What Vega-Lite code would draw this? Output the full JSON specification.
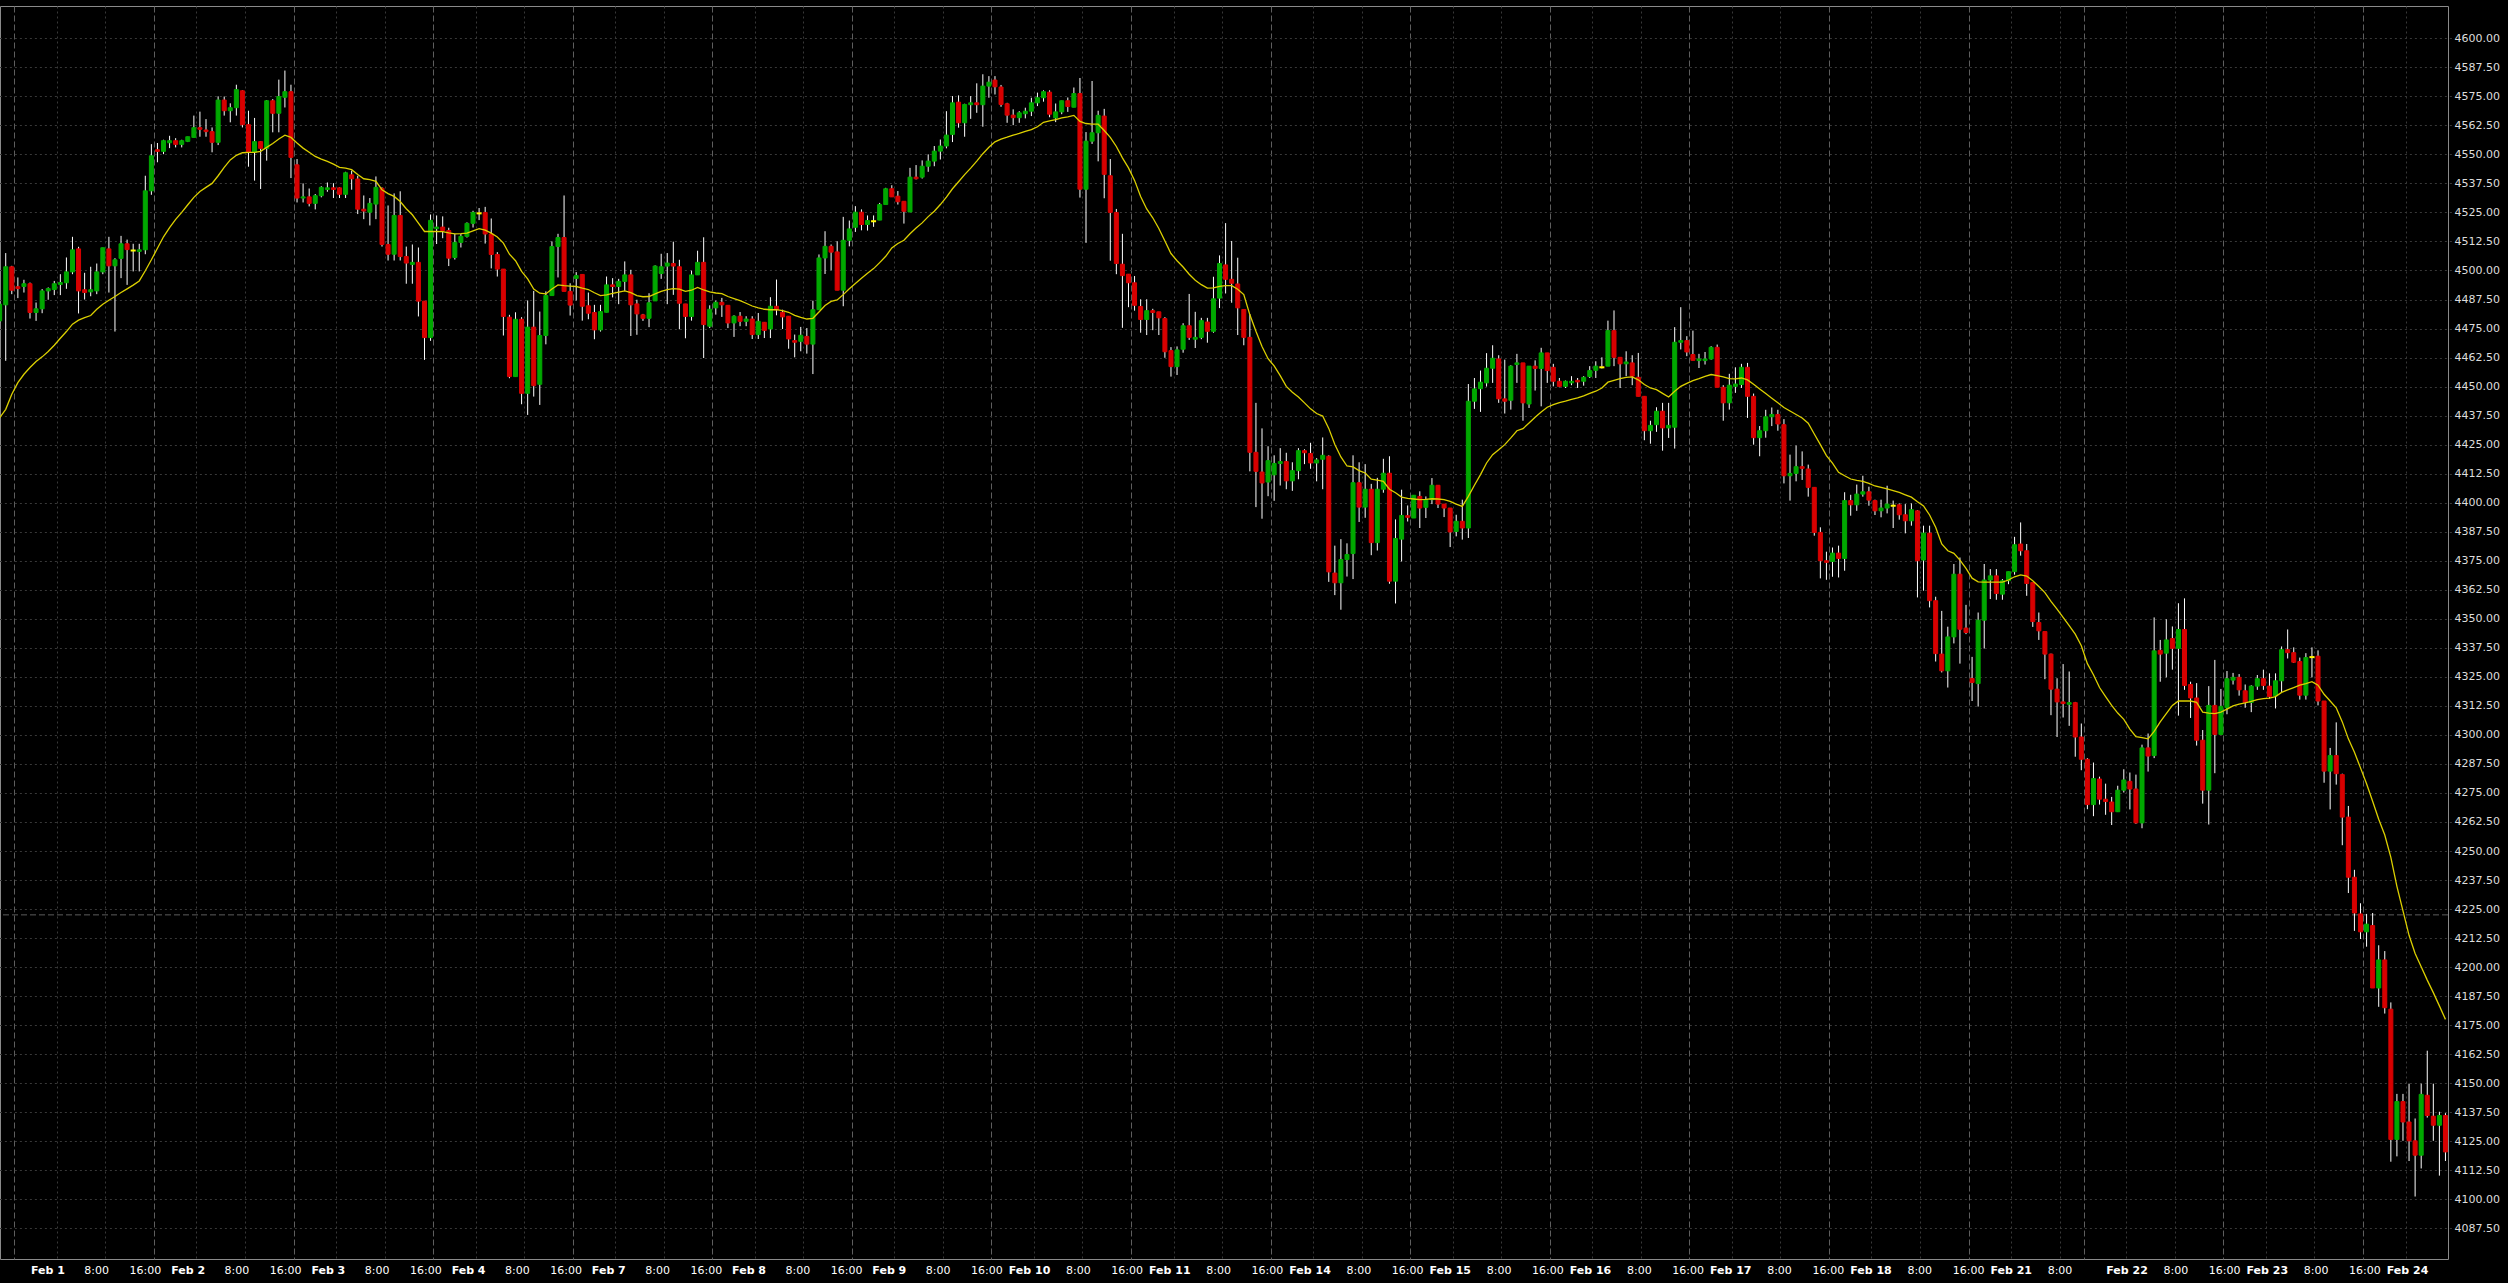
{
"$schema":"https://vega.github.io/schema/vega-lite/v6.json",
"width":2448,"height":1253,
"autosize":{"type":"none"},
"padding":{"left":0,"top":6,"right":60,"bottom":24},
"background":"#000000",
"config":{"view":{"stroke":"#8a8a8a","strokeWidth":1},"axis":{"labelOverlap":false},"axisY":{"labelOverlap":false,"tickCount":60},"axisX":{"labelOverlap":false}},
"datasets":{
"levels":[{"price":4222.5}],
"bars":[
{"t":"2022-01-31 13:00","o":4478.3,"h":4486.5,"l":4477.5,"c":4485.5,"ma":4436.6},
{"t":"2022-01-31 14:00","o":4485.2,"h":4507.5,"l":4461.1,"c":4501.6,"ma":4440.2},
{"t":"2022-01-31 15:00","o":4501.6,"h":4502.0,"l":4489.8,"c":4491.5,"ma":4446.7},
{"t":"2022-01-31 17:00","o":4493.0,"h":4497.0,"l":4488.1,"c":4492.2,"ma":4451.7},
{"t":"2022-01-31 18:00","o":4493.1,"h":4496.0,"l":4490.5,"c":4494.3,"ma":4455.3},
{"t":"2022-01-31 19:00","o":4494.3,"h":4494.8,"l":4479.3,"c":4481.9,"ma":4458.2},
{"t":"2022-01-31 20:00","o":4481.9,"h":4486.2,"l":4478.3,"c":4483.5,"ma":4460.8},
{"t":"2022-01-31 21:00","o":4483.5,"h":4492.0,"l":4481.6,"c":4491.2,"ma":4462.8},
{"t":"2022-01-31 22:00","o":4491.2,"h":4492.7,"l":4487.4,"c":4492.2,"ma":4465.1},
{"t":"2022-01-31 23:00","o":4491.8,"h":4495.5,"l":4489.4,"c":4494.3,"ma":4467.8},
{"t":"2022-02-01 00:00","o":4494.0,"h":4498.4,"l":4489.4,"c":4494.8,"ma":4470.8},
{"t":"2022-02-01 01:00","o":4494.7,"h":4505.6,"l":4492.1,"c":4499.4,"ma":4473.7},
{"t":"2022-02-01 02:00","o":4499.4,"h":4514.5,"l":4498.4,"c":4508.9,"ma":4476.9},
{"t":"2022-02-01 03:00","o":4509.3,"h":4510.2,"l":4481.5,"c":4491.2,"ma":4478.6},
{"t":"2022-02-01 04:00","o":4491.7,"h":4499.0,"l":4487.5,"c":4490.5,"ma":4479.7},
{"t":"2022-02-01 05:00","o":4490.8,"h":4501.6,"l":4488.9,"c":4491.7,"ma":4480.6},
{"t":"2022-02-01 06:00","o":4491.2,"h":4503.0,"l":4489.8,"c":4499.4,"ma":4483.3},
{"t":"2022-02-01 07:00","o":4499.4,"h":4509.8,"l":4498.4,"c":4509.8,"ma":4485.5},
{"t":"2022-02-01 08:00","o":4509.3,"h":4514.5,"l":4490.5,"c":4502.0,"ma":4487.2},
{"t":"2022-02-01 09:00","o":4502.0,"h":4505.3,"l":4473.7,"c":4504.6,"ma":4488.8},
{"t":"2022-02-01 10:00","o":4505.2,"h":4514.9,"l":4496.7,"c":4511.5,"ma":4490.5},
{"t":"2022-02-01 11:00","o":4511.5,"h":4513.3,"l":4493.8,"c":4509.0,"ma":4492.1},
{"t":"2022-02-01 12:00","o":4508.6,"h":4511.5,"l":4499.6,"c":4508.6,"ma":4493.7},
{"t":"2022-02-01 13:00","o":4508.2,"h":4511.5,"l":4499.6,"c":4508.9,"ma":4495.5},
{"t":"2022-02-01 14:00","o":4508.9,"h":4540.8,"l":4507.0,"c":4534.3,"ma":4499.9},
{"t":"2022-02-01 15:00","o":4534.3,"h":4554.4,"l":4532.6,"c":4549.4,"ma":4504.6},
{"t":"2022-02-01 17:00","o":4552.0,"h":4554.9,"l":4546.6,"c":4551.3,"ma":4509.6},
{"t":"2022-02-01 18:00","o":4551.3,"h":4556.3,"l":4550.1,"c":4555.9,"ma":4514.5},
{"t":"2022-02-01 19:00","o":4555.0,"h":4558.0,"l":4552.7,"c":4555.9,"ma":4518.5},
{"t":"2022-02-01 20:00","o":4555.9,"h":4557.0,"l":4553.0,"c":4554.3,"ma":4522.0},
{"t":"2022-02-01 21:00","o":4554.3,"h":4556.3,"l":4553.0,"c":4555.9,"ma":4525.0},
{"t":"2022-02-01 22:00","o":4555.6,"h":4557.6,"l":4555.3,"c":4557.6,"ma":4528.3},
{"t":"2022-02-01 23:00","o":4557.3,"h":4566.7,"l":4557.3,"c":4561.5,"ma":4531.5},
{"t":"2022-02-02 00:00","o":4561.5,"h":4568.4,"l":4557.6,"c":4560.8,"ma":4534.0},
{"t":"2022-02-02 01:00","o":4560.5,"h":4565.2,"l":4557.6,"c":4559.8,"ma":4535.8},
{"t":"2022-02-02 02:00","o":4559.8,"h":4561.6,"l":4550.9,"c":4555.2,"ma":4537.5},
{"t":"2022-02-02 03:00","o":4555.2,"h":4575.0,"l":4554.0,"c":4573.4,"ma":4540.8},
{"t":"2022-02-02 04:00","o":4573.4,"h":4574.9,"l":4566.7,"c":4568.8,"ma":4544.4},
{"t":"2022-02-02 05:00","o":4568.8,"h":4572.0,"l":4563.8,"c":4570.1,"ma":4547.6},
{"t":"2022-02-02 06:00","o":4570.1,"h":4580.0,"l":4566.7,"c":4577.9,"ma":4549.6},
{"t":"2022-02-02 07:00","o":4577.4,"h":4577.6,"l":4561.6,"c":4562.8,"ma":4550.7},
{"t":"2022-02-02 08:00","o":4562.8,"h":4568.8,"l":4544.7,"c":4550.9,"ma":4550.9},
{"t":"2022-02-02 09:00","o":4550.9,"h":4565.7,"l":4538.7,"c":4555.5,"ma":4550.9},
{"t":"2022-02-02 10:00","o":4555.5,"h":4555.7,"l":4535.1,"c":4552.6,"ma":4551.3},
{"t":"2022-02-02 11:00","o":4552.6,"h":4573.4,"l":4547.3,"c":4573.1,"ma":4553.0},
{"t":"2022-02-02 12:00","o":4573.1,"h":4573.8,"l":4559.5,"c":4567.7,"ma":4554.7},
{"t":"2022-02-02 13:00","o":4567.7,"h":4582.2,"l":4559.5,"c":4574.9,"ma":4556.6},
{"t":"2022-02-02 14:00","o":4574.6,"h":4586.1,"l":4570.2,"c":4577.0,"ma":4558.3},
{"t":"2022-02-02 15:00","o":4577.0,"h":4580.0,"l":4539.8,"c":4548.7,"ma":4557.3},
{"t":"2022-02-02 17:00","o":4545.5,"h":4548.0,"l":4529.3,"c":4531.2,"ma":4554.9},
{"t":"2022-02-02 18:00","o":4531.2,"h":4537.5,"l":4529.3,"c":4531.7,"ma":4552.7},
{"t":"2022-02-02 19:00","o":4531.7,"h":4535.3,"l":4527.6,"c":4528.9,"ma":4550.9},
{"t":"2022-02-02 20:00","o":4528.9,"h":4532.9,"l":4526.3,"c":4532.2,"ma":4549.1},
{"t":"2022-02-02 21:00","o":4532.2,"h":4536.3,"l":4531.5,"c":4535.8,"ma":4548.0},
{"t":"2022-02-02 22:00","o":4534.9,"h":4537.9,"l":4533.9,"c":4535.6,"ma":4547.0},
{"t":"2022-02-02 23:00","o":4535.6,"h":4537.6,"l":4531.2,"c":4534.9,"ma":4545.8},
{"t":"2022-02-03 00:00","o":4535.6,"h":4535.8,"l":4531.2,"c":4532.8,"ma":4544.4},
{"t":"2022-02-03 01:00","o":4532.8,"h":4542.5,"l":4531.2,"c":4542.1,"ma":4544.1},
{"t":"2022-02-03 02:00","o":4541.2,"h":4543.0,"l":4534.8,"c":4539.5,"ma":4543.4},
{"t":"2022-02-03 03:00","o":4539.4,"h":4540.8,"l":4524.3,"c":4526.4,"ma":4541.3},
{"t":"2022-02-03 04:00","o":4526.4,"h":4532.3,"l":4522.1,"c":4525.6,"ma":4539.5},
{"t":"2022-02-03 05:00","o":4525.1,"h":4531.2,"l":4519.4,"c":4528.9,"ma":4539.1},
{"t":"2022-02-03 06:00","o":4528.6,"h":4540.5,"l":4522.1,"c":4535.8,"ma":4538.4},
{"t":"2022-02-03 07:00","o":4535.4,"h":4535.8,"l":4510.3,"c":4511.2,"ma":4534.8},
{"t":"2022-02-03 08:00","o":4511.2,"h":4528.0,"l":4504.3,"c":4507.0,"ma":4533.1},
{"t":"2022-02-03 09:00","o":4507.0,"h":4533.2,"l":4504.3,"c":4523.7,"ma":4531.9},
{"t":"2022-02-03 10:00","o":4523.7,"h":4534.1,"l":4504.3,"c":4506.0,"ma":4529.7},
{"t":"2022-02-03 11:00","o":4506.0,"h":4510.3,"l":4494.3,"c":4503.2,"ma":4526.6},
{"t":"2022-02-03 12:00","o":4502.6,"h":4511.2,"l":4494.3,"c":4503.5,"ma":4524.0},
{"t":"2022-02-03 13:00","o":4503.5,"h":4509.9,"l":4480.2,"c":4486.8,"ma":4520.4},
{"t":"2022-02-03 14:00","o":4486.8,"h":4486.8,"l":4461.5,"c":4471.1,"ma":4516.8},
{"t":"2022-02-03 15:00","o":4471.1,"h":4524.1,"l":4469.7,"c":4521.6,"ma":4516.8},
{"t":"2022-02-03 17:00","o":4518.0,"h":4523.7,"l":4511.4,"c":4518.7,"ma":4516.8},
{"t":"2022-02-03 18:00","o":4518.7,"h":4523.3,"l":4513.9,"c":4517.2,"ma":4516.7},
{"t":"2022-02-03 19:00","o":4517.2,"h":4518.4,"l":4501.9,"c":4505.3,"ma":4516.2},
{"t":"2022-02-03 20:00","o":4505.6,"h":4515.7,"l":4504.7,"c":4512.1,"ma":4515.8},
{"t":"2022-02-03 21:00","o":4512.1,"h":4515.7,"l":4509.9,"c":4514.7,"ma":4515.9},
{"t":"2022-02-03 22:00","o":4514.7,"h":4520.7,"l":4514.2,"c":4520.3,"ma":4516.1},
{"t":"2022-02-03 23:00","o":4520.3,"h":4525.7,"l":4518.5,"c":4525.0,"ma":4517.1},
{"t":"2022-02-04 00:00","o":4524.6,"h":4526.9,"l":4521.7,"c":4524.6,"ma":4518.0},
{"t":"2022-02-04 01:00","o":4525.0,"h":4527.4,"l":4511.6,"c":4515.7,"ma":4517.4},
{"t":"2022-02-04 02:00","o":4515.7,"h":4522.4,"l":4500.9,"c":4506.9,"ma":4516.1},
{"t":"2022-02-04 03:00","o":4506.9,"h":4507.9,"l":4497.4,"c":4500.6,"ma":4514.4},
{"t":"2022-02-04 04:00","o":4500.6,"h":4500.6,"l":4472.0,"c":4480.2,"ma":4511.8},
{"t":"2022-02-04 05:00","o":4479.9,"h":4480.9,"l":4453.6,"c":4454.3,"ma":4507.0},
{"t":"2022-02-04 06:00","o":4454.3,"h":4482.0,"l":4454.3,"c":4479.0,"ma":4504.2},
{"t":"2022-02-04 07:00","o":4479.0,"h":4479.9,"l":4442.4,"c":4447.1,"ma":4499.6},
{"t":"2022-02-04 08:00","o":4447.1,"h":4487.1,"l":4437.8,"c":4475.6,"ma":4496.4},
{"t":"2022-02-04 09:00","o":4475.6,"h":4491.2,"l":4445.7,"c":4450.4,"ma":4492.0},
{"t":"2022-02-04 10:00","o":4451.0,"h":4482.3,"l":4442.1,"c":4472.0,"ma":4490.2},
{"t":"2022-02-04 11:00","o":4472.0,"h":4491.0,"l":4468.2,"c":4489.2,"ma":4489.9},
{"t":"2022-02-04 12:00","o":4489.2,"h":4512.5,"l":4489.2,"c":4510.3,"ma":4492.0},
{"t":"2022-02-04 13:00","o":4510.3,"h":4515.8,"l":4497.0,"c":4514.2,"ma":4493.8},
{"t":"2022-02-04 14:00","o":4514.2,"h":4532.3,"l":4491.0,"c":4491.0,"ma":4493.5},
{"t":"2022-02-04 15:00","o":4491.0,"h":4494.5,"l":4480.6,"c":4485.1,"ma":4493.3},
{"t":"2022-02-06 17:00","o":4496.6,"h":4499.3,"l":4487.1,"c":4497.8,"ma":4493.1},
{"t":"2022-02-06 18:00","o":4498.3,"h":4498.3,"l":4478.4,"c":4484.6,"ma":4492.4},
{"t":"2022-02-06 19:00","o":4484.8,"h":4490.5,"l":4479.0,"c":4481.6,"ma":4491.8},
{"t":"2022-02-06 20:00","o":4481.9,"h":4485.2,"l":4470.4,"c":4474.4,"ma":4490.4},
{"t":"2022-02-06 21:00","o":4474.4,"h":4485.2,"l":4473.7,"c":4482.3,"ma":4489.2},
{"t":"2022-02-06 22:00","o":4482.0,"h":4497.4,"l":4482.0,"c":4493.8,"ma":4489.5},
{"t":"2022-02-06 23:00","o":4493.8,"h":4496.7,"l":4488.4,"c":4493.1,"ma":4490.1},
{"t":"2022-02-07 00:00","o":4493.1,"h":4496.4,"l":4485.5,"c":4495.3,"ma":4490.7},
{"t":"2022-02-07 01:00","o":4495.3,"h":4503.9,"l":4491.2,"c":4498.1,"ma":4491.2},
{"t":"2022-02-07 02:00","o":4498.1,"h":4500.3,"l":4471.8,"c":4485.2,"ma":4490.5},
{"t":"2022-02-07 03:00","o":4485.6,"h":4487.4,"l":4472.3,"c":4481.3,"ma":4489.2},
{"t":"2022-02-07 04:00","o":4480.9,"h":4481.3,"l":4478.3,"c":4479.4,"ma":4488.7},
{"t":"2022-02-07 05:00","o":4479.4,"h":4490.2,"l":4475.6,"c":4486.1,"ma":4488.8},
{"t":"2022-02-07 06:00","o":4486.9,"h":4502.2,"l":4486.9,"c":4501.9,"ma":4489.9},
{"t":"2022-02-07 07:00","o":4498.7,"h":4507.2,"l":4496.4,"c":4501.6,"ma":4491.0},
{"t":"2022-02-07 08:00","o":4501.9,"h":4507.5,"l":4485.5,"c":4503.2,"ma":4491.8},
{"t":"2022-02-07 09:00","o":4503.0,"h":4512.4,"l":4489.5,"c":4501.9,"ma":4492.2},
{"t":"2022-02-07 10:00","o":4501.6,"h":4504.6,"l":4474.7,"c":4485.9,"ma":4492.0},
{"t":"2022-02-07 11:00","o":4485.6,"h":4485.6,"l":4470.8,"c":4480.2,"ma":4491.0},
{"t":"2022-02-07 12:00","o":4480.2,"h":4499.9,"l":4478.4,"c":4498.1,"ma":4491.5},
{"t":"2022-02-07 13:00","o":4498.1,"h":4508.5,"l":4498.1,"c":4503.5,"ma":4492.7},
{"t":"2022-02-07 14:00","o":4503.5,"h":4514.3,"l":4462.3,"c":4476.7,"ma":4491.6},
{"t":"2022-02-07 15:00","o":4476.0,"h":4485.0,"l":4475.2,"c":4483.3,"ma":4490.8},
{"t":"2022-02-07 17:00","o":4483.9,"h":4487.0,"l":4481.0,"c":4486.3,"ma":4490.3},
{"t":"2022-02-07 18:00","o":4486.3,"h":4488.2,"l":4480.0,"c":4485.2,"ma":4490.0},
{"t":"2022-02-07 19:00","o":4485.0,"h":4485.0,"l":4475.2,"c":4477.4,"ma":4488.8},
{"t":"2022-02-07 20:00","o":4477.4,"h":4480.7,"l":4471.4,"c":4480.3,"ma":4487.9},
{"t":"2022-02-07 21:00","o":4480.3,"h":4482.1,"l":4476.0,"c":4478.1,"ma":4487.0},
{"t":"2022-02-07 22:00","o":4478.1,"h":4480.3,"l":4476.0,"c":4479.1,"ma":4485.9},
{"t":"2022-02-07 23:00","o":4479.1,"h":4480.3,"l":4470.5,"c":4472.4,"ma":4484.7},
{"t":"2022-02-08 00:00","o":4472.4,"h":4481.7,"l":4470.5,"c":4478.1,"ma":4483.9},
{"t":"2022-02-08 01:00","o":4477.7,"h":4477.7,"l":4470.9,"c":4474.2,"ma":4483.3},
{"t":"2022-02-08 02:00","o":4474.8,"h":4488.5,"l":4470.9,"c":4484.6,"ma":4483.1},
{"t":"2022-02-08 03:00","o":4484.6,"h":4496.1,"l":4480.7,"c":4483.1,"ma":4483.1},
{"t":"2022-02-08 04:00","o":4482.0,"h":4483.1,"l":4474.8,"c":4480.0,"ma":4482.7},
{"t":"2022-02-08 05:00","o":4480.3,"h":4480.3,"l":4466.3,"c":4470.5,"ma":4482.0},
{"t":"2022-02-08 06:00","o":4469.8,"h":4472.4,"l":4462.6,"c":4469.1,"ma":4480.7},
{"t":"2022-02-08 07:00","o":4469.5,"h":4475.7,"l":4465.2,"c":4472.1,"ma":4479.8},
{"t":"2022-02-08 08:00","o":4471.6,"h":4475.2,"l":4464.2,"c":4468.3,"ma":4479.1},
{"t":"2022-02-08 09:00","o":4468.3,"h":4487.0,"l":4455.4,"c":4483.1,"ma":4479.4},
{"t":"2022-02-08 10:00","o":4483.1,"h":4506.9,"l":4483.1,"c":4505.4,"ma":4482.1},
{"t":"2022-02-08 11:00","o":4505.4,"h":4516.9,"l":4498.5,"c":4510.4,"ma":4484.9},
{"t":"2022-02-08 12:00","o":4510.4,"h":4511.2,"l":4500.1,"c":4507.9,"ma":4486.7},
{"t":"2022-02-08 13:00","o":4508.0,"h":4512.6,"l":4491.5,"c":4491.5,"ma":4487.3},
{"t":"2022-02-08 14:00","o":4491.5,"h":4523.1,"l":4484.6,"c":4513.0,"ma":4489.6},
{"t":"2022-02-08 15:00","o":4513.0,"h":4521.5,"l":4510.4,"c":4517.9,"ma":4492.1},
{"t":"2022-02-08 17:00","o":4518.6,"h":4527.7,"l":4516.6,"c":4525.1,"ma":4494.4},
{"t":"2022-02-08 18:00","o":4525.1,"h":4526.3,"l":4517.3,"c":4519.8,"ma":4496.7},
{"t":"2022-02-08 19:00","o":4519.8,"h":4523.7,"l":4517.2,"c":4521.5,"ma":4498.8},
{"t":"2022-02-08 20:00","o":4521.2,"h":4523.7,"l":4518.8,"c":4521.2,"ma":4500.8},
{"t":"2022-02-08 21:00","o":4521.7,"h":4529.1,"l":4521.7,"c":4528.4,"ma":4503.4},
{"t":"2022-02-08 22:00","o":4528.4,"h":4535.6,"l":4528.4,"c":4535.2,"ma":4506.1},
{"t":"2022-02-08 23:00","o":4535.2,"h":4536.7,"l":4531.7,"c":4531.7,"ma":4509.7},
{"t":"2022-02-09 00:00","o":4532.0,"h":4534.2,"l":4528.4,"c":4529.6,"ma":4511.6},
{"t":"2022-02-09 01:00","o":4529.8,"h":4529.8,"l":4520.2,"c":4525.5,"ma":4513.0},
{"t":"2022-02-09 02:00","o":4525.2,"h":4544.2,"l":4525.2,"c":4540.2,"ma":4515.8},
{"t":"2022-02-09 03:00","o":4540.2,"h":4545.4,"l":4539.2,"c":4539.5,"ma":4518.3},
{"t":"2022-02-09 04:00","o":4540.2,"h":4547.4,"l":4539.6,"c":4544.9,"ma":4520.5},
{"t":"2022-02-09 05:00","o":4544.9,"h":4550.0,"l":4542.5,"c":4547.1,"ma":4523.2},
{"t":"2022-02-09 06:00","o":4547.1,"h":4553.6,"l":4544.9,"c":4551.4,"ma":4525.5},
{"t":"2022-02-09 07:00","o":4551.4,"h":4556.4,"l":4547.8,"c":4553.6,"ma":4528.4},
{"t":"2022-02-09 08:00","o":4553.6,"h":4568.6,"l":4552.6,"c":4558.3,"ma":4531.6},
{"t":"2022-02-09 09:00","o":4558.6,"h":4575.1,"l":4555.3,"c":4572.2,"ma":4535.2},
{"t":"2022-02-09 10:00","o":4572.5,"h":4575.4,"l":4561.5,"c":4563.6,"ma":4538.2},
{"t":"2022-02-09 11:00","o":4563.6,"h":4571.8,"l":4557.6,"c":4571.5,"ma":4541.3},
{"t":"2022-02-09 12:00","o":4571.4,"h":4575.1,"l":4565.3,"c":4572.2,"ma":4544.1},
{"t":"2022-02-09 13:00","o":4572.2,"h":4580.6,"l":4567.9,"c":4571.4,"ma":4547.1},
{"t":"2022-02-09 14:00","o":4571.4,"h":4584.5,"l":4561.9,"c":4579.4,"ma":4550.3},
{"t":"2022-02-09 15:00","o":4579.4,"h":4583.7,"l":4574.4,"c":4581.1,"ma":4553.1},
{"t":"2022-02-09 17:00","o":4582.0,"h":4583.7,"l":4575.8,"c":4579.1,"ma":4555.4},
{"t":"2022-02-09 18:00","o":4579.0,"h":4579.9,"l":4570.5,"c":4571.5,"ma":4556.6},
{"t":"2022-02-09 19:00","o":4571.8,"h":4572.2,"l":4563.6,"c":4566.9,"ma":4557.4},
{"t":"2022-02-09 20:00","o":4566.9,"h":4569.4,"l":4562.6,"c":4565.8,"ma":4558.3},
{"t":"2022-02-09 21:00","o":4565.8,"h":4568.6,"l":4563.6,"c":4567.9,"ma":4559.0},
{"t":"2022-02-09 22:00","o":4567.5,"h":4570.1,"l":4565.5,"c":4568.6,"ma":4559.9},
{"t":"2022-02-09 23:00","o":4568.6,"h":4574.4,"l":4566.5,"c":4572.2,"ma":4560.7},
{"t":"2022-02-10 00:00","o":4572.2,"h":4576.6,"l":4570.8,"c":4574.4,"ma":4561.9},
{"t":"2022-02-10 01:00","o":4574.4,"h":4577.6,"l":4572.7,"c":4577.0,"ma":4563.8},
{"t":"2022-02-10 02:00","o":4576.8,"h":4577.6,"l":4566.0,"c":4567.3,"ma":4564.4},
{"t":"2022-02-10 03:00","o":4565.7,"h":4571.9,"l":4563.9,"c":4568.3,"ma":4565.0},
{"t":"2022-02-10 04:00","o":4568.3,"h":4573.1,"l":4567.3,"c":4573.1,"ma":4565.7},
{"t":"2022-02-10 05:00","o":4573.1,"h":4574.5,"l":4568.3,"c":4570.6,"ma":4566.2},
{"t":"2022-02-10 06:00","o":4570.3,"h":4578.8,"l":4570.3,"c":4576.2,"ma":4566.8},
{"t":"2022-02-10 07:00","o":4576.2,"h":4582.9,"l":4531.4,"c":4535.0,"ma":4564.2},
{"t":"2022-02-10 08:00","o":4535.0,"h":4559.6,"l":4511.9,"c":4555.7,"ma":4563.3},
{"t":"2022-02-10 09:00","o":4555.7,"h":4581.6,"l":4554.5,"c":4559.3,"ma":4563.0},
{"t":"2022-02-10 10:00","o":4559.3,"h":4568.8,"l":4547.0,"c":4566.8,"ma":4563.0},
{"t":"2022-02-10 11:00","o":4566.5,"h":4569.6,"l":4531.1,"c":4541.4,"ma":4560.3},
{"t":"2022-02-10 12:00","o":4540.8,"h":4548.0,"l":4504.2,"c":4525.0,"ma":4557.3},
{"t":"2022-02-10 13:00","o":4525.0,"h":4526.5,"l":4498.4,"c":4503.0,"ma":4553.4},
{"t":"2022-02-10 14:00","o":4502.7,"h":4515.8,"l":4475.3,"c":4497.8,"ma":4548.5},
{"t":"2022-02-10 15:00","o":4498.4,"h":4498.4,"l":4484.2,"c":4494.7,"ma":4544.2},
{"t":"2022-02-10 17:00","o":4494.7,"h":4497.6,"l":4482.7,"c":4485.0,"ma":4538.8},
{"t":"2022-02-10 18:00","o":4484.5,"h":4487.6,"l":4473.2,"c":4478.9,"ma":4531.9},
{"t":"2022-02-10 19:00","o":4478.9,"h":4487.6,"l":4472.2,"c":4482.7,"ma":4526.5},
{"t":"2022-02-10 20:00","o":4482.7,"h":4483.5,"l":4474.3,"c":4481.9,"ma":4522.7},
{"t":"2022-02-10 21:00","o":4482.2,"h":4482.2,"l":4472.2,"c":4479.6,"ma":4518.1},
{"t":"2022-02-10 22:00","o":4479.3,"h":4479.9,"l":4462.4,"c":4465.0,"ma":4512.7},
{"t":"2022-02-10 23:00","o":4465.5,"h":4467.0,"l":4454.3,"c":4458.6,"ma":4507.3},
{"t":"2022-02-11 00:00","o":4458.6,"h":4467.3,"l":4455.0,"c":4465.8,"ma":4504.2},
{"t":"2022-02-11 01:00","o":4466.1,"h":4477.3,"l":4464.6,"c":4476.2,"ma":4501.5},
{"t":"2022-02-11 02:00","o":4476.2,"h":4489.9,"l":4470.1,"c":4471.2,"ma":4498.4},
{"t":"2022-02-11 03:00","o":4470.4,"h":4482.2,"l":4466.6,"c":4471.2,"ma":4495.8},
{"t":"2022-02-11 04:00","o":4471.2,"h":4479.6,"l":4470.4,"c":4478.4,"ma":4493.9},
{"t":"2022-02-11 05:00","o":4477.8,"h":4479.6,"l":4468.9,"c":4473.8,"ma":4492.4},
{"t":"2022-02-11 06:00","o":4473.8,"h":4497.3,"l":4473.2,"c":4487.8,"ma":4492.5},
{"t":"2022-02-11 07:00","o":4488.1,"h":4506.5,"l":4483.8,"c":4503.0,"ma":4493.2},
{"t":"2022-02-11 08:00","o":4502.4,"h":4520.4,"l":4490.1,"c":4496.2,"ma":4493.5},
{"t":"2022-02-11 09:00","o":4496.2,"h":4512.7,"l":4486.1,"c":4494.5,"ma":4493.5},
{"t":"2022-02-11 10:00","o":4494.2,"h":4505.5,"l":4472.2,"c":4483.9,"ma":4491.9},
{"t":"2022-02-11 11:00","o":4483.2,"h":4483.2,"l":4467.8,"c":4471.2,"ma":4489.6},
{"t":"2022-02-11 12:00","o":4471.2,"h":4481.2,"l":4413.5,"c":4421.7,"ma":4480.9},
{"t":"2022-02-11 13:00","o":4421.7,"h":4443.0,"l":4398.1,"c":4413.5,"ma":4473.8},
{"t":"2022-02-11 14:00","o":4413.2,"h":4432.0,"l":4393.1,"c":4408.5,"ma":4467.3},
{"t":"2022-02-11 15:00","o":4408.9,"h":4424.3,"l":4402.8,"c":4418.1,"ma":4462.0},
{"t":"2022-02-13 17:00","o":4412.0,"h":4420.4,"l":4400.8,"c":4416.9,"ma":4458.9},
{"t":"2022-02-13 18:00","o":4416.9,"h":4423.5,"l":4407.4,"c":4417.7,"ma":4454.7},
{"t":"2022-02-13 19:00","o":4417.7,"h":4421.5,"l":4405.8,"c":4409.4,"ma":4450.1},
{"t":"2022-02-13 20:00","o":4409.4,"h":4417.4,"l":4405.1,"c":4413.8,"ma":4447.6},
{"t":"2022-02-13 21:00","o":4413.8,"h":4423.5,"l":4410.1,"c":4422.4,"ma":4445.5},
{"t":"2022-02-13 22:00","o":4422.4,"h":4423.0,"l":4416.6,"c":4421.5,"ma":4443.0},
{"t":"2022-02-13 23:00","o":4421.2,"h":4425.8,"l":4414.6,"c":4417.1,"ma":4440.4},
{"t":"2022-02-14 00:00","o":4417.1,"h":4419.2,"l":4409.2,"c":4418.4,"ma":4438.4},
{"t":"2022-02-14 01:00","o":4418.7,"h":4428.1,"l":4405.8,"c":4420.4,"ma":4437.3},
{"t":"2022-02-14 02:00","o":4420.0,"h":4420.4,"l":4365.9,"c":4370.2,"ma":4432.0},
{"t":"2022-02-14 03:00","o":4369.7,"h":4381.5,"l":4360.2,"c":4365.5,"ma":4425.1},
{"t":"2022-02-14 04:00","o":4365.5,"h":4384.3,"l":4353.9,"c":4375.5,"ma":4419.7},
{"t":"2022-02-14 05:00","o":4375.5,"h":4382.5,"l":4368.2,"c":4377.7,"ma":4415.8},
{"t":"2022-02-14 06:00","o":4378.1,"h":4420.4,"l":4367.1,"c":4408.6,"ma":4415.4},
{"t":"2022-02-14 07:00","o":4408.6,"h":4417.4,"l":4391.7,"c":4398.1,"ma":4413.8},
{"t":"2022-02-14 08:00","o":4398.1,"h":4416.6,"l":4393.5,"c":4405.8,"ma":4412.8},
{"t":"2022-02-14 09:00","o":4405.8,"h":4408.1,"l":4377.4,"c":4382.8,"ma":4410.1},
{"t":"2022-02-14 10:00","o":4382.8,"h":4410.7,"l":4379.4,"c":4405.8,"ma":4409.7},
{"t":"2022-02-14 11:00","o":4405.8,"h":4418.9,"l":4404.3,"c":4412.7,"ma":4409.2},
{"t":"2022-02-14 12:00","o":4412.7,"h":4420.0,"l":4365.1,"c":4366.2,"ma":4405.8},
{"t":"2022-02-14 13:00","o":4366.2,"h":4392.8,"l":4356.6,"c":4384.6,"ma":4404.3},
{"t":"2022-02-14 14:00","o":4384.3,"h":4405.6,"l":4374.7,"c":4394.5,"ma":4402.4},
{"t":"2022-02-14 15:00","o":4394.4,"h":4398.8,"l":4391.9,"c":4393.7,"ma":4401.9},
{"t":"2022-02-14 17:00","o":4393.4,"h":4403.2,"l":4393.4,"c":4403.2,"ma":4401.6},
{"t":"2022-02-14 18:00","o":4402.7,"h":4404.9,"l":4389.1,"c":4397.7,"ma":4401.3},
{"t":"2022-02-14 19:00","o":4398.0,"h":4402.7,"l":4393.4,"c":4401.3,"ma":4401.4},
{"t":"2022-02-14 20:00","o":4401.3,"h":4410.6,"l":4399.4,"c":4407.5,"ma":4401.7},
{"t":"2022-02-14 21:00","o":4407.5,"h":4407.5,"l":4397.7,"c":4399.4,"ma":4401.6},
{"t":"2022-02-14 22:00","o":4399.4,"h":4399.4,"l":4393.8,"c":4397.7,"ma":4401.3},
{"t":"2022-02-14 23:00","o":4397.7,"h":4397.7,"l":4380.9,"c":4387.4,"ma":4400.6},
{"t":"2022-02-15 00:00","o":4387.6,"h":4394.8,"l":4385.5,"c":4392.0,"ma":4399.4},
{"t":"2022-02-15 01:00","o":4392.0,"h":4401.3,"l":4384.1,"c":4389.1,"ma":4398.4},
{"t":"2022-02-15 02:00","o":4389.1,"h":4451.1,"l":4384.8,"c":4443.7,"ma":4402.7},
{"t":"2022-02-15 03:00","o":4443.7,"h":4453.7,"l":4440.4,"c":4449.0,"ma":4407.5},
{"t":"2022-02-15 04:00","o":4449.1,"h":4456.9,"l":4439.1,"c":4451.9,"ma":4412.1},
{"t":"2022-02-15 05:00","o":4451.6,"h":4464.4,"l":4450.0,"c":4457.9,"ma":4417.1},
{"t":"2022-02-15 06:00","o":4457.9,"h":4467.8,"l":4451.6,"c":4462.2,"ma":4420.7},
{"t":"2022-02-15 07:00","o":4461.9,"h":4463.5,"l":4443.0,"c":4444.7,"ma":4422.8},
{"t":"2022-02-15 08:00","o":4444.7,"h":4461.6,"l":4438.4,"c":4443.7,"ma":4425.0},
{"t":"2022-02-15 09:00","o":4444.1,"h":4459.2,"l":4440.1,"c":4458.8,"ma":4427.9},
{"t":"2022-02-15 10:00","o":4459.5,"h":4464.1,"l":4451.6,"c":4460.2,"ma":4431.0},
{"t":"2022-02-15 11:00","o":4460.2,"h":4460.2,"l":4435.3,"c":4443.0,"ma":4431.9},
{"t":"2022-02-15 12:00","o":4442.5,"h":4458.8,"l":4440.8,"c":4458.8,"ma":4434.3},
{"t":"2022-02-15 13:00","o":4458.8,"h":4461.3,"l":4448.3,"c":4457.8,"ma":4436.8},
{"t":"2022-02-15 14:00","o":4457.8,"h":4466.7,"l":4441.5,"c":4464.5,"ma":4439.1},
{"t":"2022-02-15 15:00","o":4464.5,"h":4464.5,"l":4451.6,"c":4456.9,"ma":4441.1},
{"t":"2022-02-15 17:00","o":4458.3,"h":4459.8,"l":4450.1,"c":4452.3,"ma":4442.2},
{"t":"2022-02-15 18:00","o":4452.3,"h":4453.7,"l":4449.7,"c":4450.1,"ma":4443.1},
{"t":"2022-02-15 19:00","o":4450.1,"h":4452.6,"l":4449.4,"c":4452.3,"ma":4443.7},
{"t":"2022-02-15 20:00","o":4451.6,"h":4454.5,"l":4450.6,"c":4452.3,"ma":4444.5},
{"t":"2022-02-15 21:00","o":4452.7,"h":4453.7,"l":4449.4,"c":4452.0,"ma":4445.1},
{"t":"2022-02-15 22:00","o":4452.3,"h":4454.5,"l":4450.4,"c":4454.0,"ma":4446.0},
{"t":"2022-02-15 23:00","o":4454.3,"h":4458.8,"l":4453.7,"c":4456.9,"ma":4447.1},
{"t":"2022-02-16 00:00","o":4457.0,"h":4460.9,"l":4453.7,"c":4458.8,"ma":4448.0},
{"t":"2022-02-16 01:00","o":4458.3,"h":4462.6,"l":4457.8,"c":4458.3,"ma":4449.4},
{"t":"2022-02-16 02:00","o":4458.8,"h":4478.4,"l":4458.8,"c":4474.1,"ma":4451.9},
{"t":"2022-02-16 03:00","o":4474.1,"h":4482.8,"l":4458.8,"c":4462.6,"ma":4452.7},
{"t":"2022-02-16 04:00","o":4462.6,"h":4462.6,"l":4449.4,"c":4459.8,"ma":4453.4},
{"t":"2022-02-16 05:00","o":4459.8,"h":4465.2,"l":4454.5,"c":4460.6,"ma":4454.0},
{"t":"2022-02-16 06:00","o":4460.2,"h":4463.5,"l":4450.6,"c":4454.5,"ma":4454.2},
{"t":"2022-02-16 07:00","o":4454.0,"h":4464.5,"l":4445.8,"c":4445.8,"ma":4452.9},
{"t":"2022-02-16 08:00","o":4445.8,"h":4445.8,"l":4426.9,"c":4431.0,"ma":4450.9},
{"t":"2022-02-16 09:00","o":4431.0,"h":4435.3,"l":4425.4,"c":4433.3,"ma":4449.4},
{"t":"2022-02-16 10:00","o":4433.6,"h":4441.1,"l":4430.5,"c":4439.4,"ma":4448.7},
{"t":"2022-02-16 11:00","o":4439.4,"h":4443.0,"l":4422.4,"c":4432.2,"ma":4447.1},
{"t":"2022-02-16 12:00","o":4432.2,"h":4443.0,"l":4427.9,"c":4433.3,"ma":4445.5},
{"t":"2022-02-16 13:00","o":4432.5,"h":4475.6,"l":4423.3,"c":4469.1,"ma":4448.0},
{"t":"2022-02-16 14:00","o":4469.1,"h":4484.2,"l":4466.0,"c":4469.8,"ma":4450.1},
{"t":"2022-02-16 15:00","o":4469.8,"h":4471.7,"l":4463.1,"c":4464.9,"ma":4451.4},
{"t":"2022-02-16 17:00","o":4463.8,"h":4474.1,"l":4461.3,"c":4461.3,"ma":4452.6},
{"t":"2022-02-16 18:00","o":4461.2,"h":4464.1,"l":4458.0,"c":4461.9,"ma":4453.4},
{"t":"2022-02-16 19:00","o":4461.2,"h":4464.9,"l":4459.5,"c":4461.9,"ma":4454.4},
{"t":"2022-02-16 20:00","o":4461.9,"h":4467.4,"l":4461.6,"c":4466.9,"ma":4455.2},
{"t":"2022-02-16 21:00","o":4466.9,"h":4468.1,"l":4449.7,"c":4449.7,"ma":4454.7},
{"t":"2022-02-16 22:00","o":4449.7,"h":4450.6,"l":4435.3,"c":4443.0,"ma":4454.2},
{"t":"2022-02-16 23:00","o":4443.0,"h":4455.5,"l":4440.1,"c":4450.6,"ma":4453.4},
{"t":"2022-02-17 00:00","o":4450.1,"h":4458.3,"l":4447.3,"c":4451.1,"ma":4453.3},
{"t":"2022-02-17 01:00","o":4450.9,"h":4459.8,"l":4449.4,"c":4458.3,"ma":4453.7},
{"t":"2022-02-17 02:00","o":4458.3,"h":4460.2,"l":4436.5,"c":4445.8,"ma":4452.9},
{"t":"2022-02-17 03:00","o":4445.8,"h":4447.0,"l":4425.0,"c":4428.0,"ma":4451.0},
{"t":"2022-02-17 04:00","o":4428.0,"h":4433.0,"l":4420.0,"c":4431.0,"ma":4449.0},
{"t":"2022-02-17 05:00","o":4431.0,"h":4440.0,"l":4428.0,"c":4437.0,"ma":4447.0},
{"t":"2022-02-17 06:00","o":4437.0,"h":4441.0,"l":4433.0,"c":4438.0,"ma":4445.0},
{"t":"2022-02-17 07:00","o":4438.0,"h":4440.0,"l":4431.0,"c":4433.9,"ma":4443.0},
{"t":"2022-02-17 08:00","o":4433.6,"h":4436.0,"l":4408.3,"c":4411.6,"ma":4441.0},
{"t":"2022-02-17 09:00","o":4411.6,"h":4420.7,"l":4400.9,"c":4412.6,"ma":4439.5},
{"t":"2022-02-17 10:00","o":4412.6,"h":4424.6,"l":4409.2,"c":4415.5,"ma":4438.0},
{"t":"2022-02-17 11:00","o":4415.5,"h":4422.1,"l":4409.8,"c":4414.8,"ma":4436.5},
{"t":"2022-02-17 12:00","o":4414.5,"h":4416.4,"l":4402.6,"c":4406.6,"ma":4434.2},
{"t":"2022-02-17 13:00","o":4406.6,"h":4406.6,"l":4385.8,"c":4387.2,"ma":4429.6},
{"t":"2022-02-17 14:00","o":4387.2,"h":4389.4,"l":4367.4,"c":4375.0,"ma":4425.0},
{"t":"2022-02-17 15:00","o":4375.0,"h":4378.9,"l":4366.8,"c":4374.3,"ma":4420.3},
{"t":"2022-02-17 17:00","o":4374.7,"h":4380.7,"l":4368.1,"c":4378.3,"ma":4417.0},
{"t":"2022-02-17 18:00","o":4378.3,"h":4381.5,"l":4367.8,"c":4376.0,"ma":4413.1},
{"t":"2022-02-17 19:00","o":4376.0,"h":4404.5,"l":4370.7,"c":4400.9,"ma":4411.6},
{"t":"2022-02-17 20:00","o":4400.9,"h":4403.4,"l":4394.4,"c":4399.1,"ma":4410.2},
{"t":"2022-02-17 21:00","o":4399.1,"h":4407.8,"l":4396.5,"c":4403.7,"ma":4409.6},
{"t":"2022-02-17 22:00","o":4403.7,"h":4411.6,"l":4402.6,"c":4404.7,"ma":4409.2},
{"t":"2022-02-17 23:00","o":4404.7,"h":4406.9,"l":4398.7,"c":4401.1,"ma":4408.3},
{"t":"2022-02-18 00:00","o":4400.9,"h":4401.3,"l":4394.7,"c":4396.5,"ma":4407.2},
{"t":"2022-02-18 01:00","o":4396.5,"h":4401.3,"l":4393.7,"c":4397.7,"ma":4406.6},
{"t":"2022-02-18 02:00","o":4397.7,"h":4407.3,"l":4395.4,"c":4399.4,"ma":4405.9},
{"t":"2022-02-18 03:00","o":4398.7,"h":4400.9,"l":4389.1,"c":4398.7,"ma":4405.2},
{"t":"2022-02-18 04:00","o":4399.1,"h":4399.7,"l":4392.7,"c":4394.8,"ma":4404.4},
{"t":"2022-02-18 05:00","o":4394.8,"h":4399.4,"l":4386.8,"c":4392.2,"ma":4403.4},
{"t":"2022-02-18 06:00","o":4392.2,"h":4399.7,"l":4390.1,"c":4397.0,"ma":4402.4},
{"t":"2022-02-18 07:00","o":4396.5,"h":4396.8,"l":4359.2,"c":4375.0,"ma":4400.4},
{"t":"2022-02-18 08:00","o":4375.3,"h":4390.1,"l":4362.1,"c":4386.9,"ma":4398.6},
{"t":"2022-02-18 09:00","o":4386.9,"h":4390.1,"l":4354.9,"c":4357.8,"ma":4394.7},
{"t":"2022-02-18 10:00","o":4357.8,"h":4359.5,"l":4331.6,"c":4335.0,"ma":4389.4},
{"t":"2022-02-18 11:00","o":4334.8,"h":4353.4,"l":4326.9,"c":4327.6,"ma":4382.2},
{"t":"2022-02-18 12:00","o":4327.6,"h":4346.6,"l":4320.4,"c":4342.2,"ma":4379.3},
{"t":"2022-02-18 13:00","o":4342.2,"h":4373.6,"l":4339.4,"c":4369.2,"ma":4378.2},
{"t":"2022-02-18 14:00","o":4369.2,"h":4376.4,"l":4330.7,"c":4345.5,"ma":4375.3},
{"t":"2022-02-18 15:00","o":4346.0,"h":4356.0,"l":4343.4,"c":4344.1,"ma":4371.7},
{"t":"2022-02-20 17:00","o":4324.3,"h":4333.6,"l":4314.6,"c":4322.6,"ma":4367.5},
{"t":"2022-02-20 18:00","o":4322.1,"h":4352.7,"l":4312.2,"c":4349.4,"ma":4365.9},
{"t":"2022-02-20 19:00","o":4349.4,"h":4373.6,"l":4337.2,"c":4366.7,"ma":4365.8},
{"t":"2022-02-20 20:00","o":4366.7,"h":4371.4,"l":4358.5,"c":4368.5,"ma":4365.8},
{"t":"2022-02-20 21:00","o":4368.5,"h":4371.4,"l":4358.2,"c":4360.9,"ma":4365.8},
{"t":"2022-02-20 22:00","o":4360.6,"h":4367.1,"l":4358.2,"c":4366.4,"ma":4365.8},
{"t":"2022-02-20 23:00","o":4366.4,"h":4370.3,"l":4364.9,"c":4370.3,"ma":4366.7},
{"t":"2022-02-21 00:00","o":4370.3,"h":4385.3,"l":4369.0,"c":4381.9,"ma":4368.1},
{"t":"2022-02-21 01:00","o":4382.2,"h":4391.5,"l":4377.2,"c":4379.3,"ma":4368.9},
{"t":"2022-02-21 02:00","o":4379.3,"h":4382.2,"l":4359.9,"c":4365.2,"ma":4368.4},
{"t":"2022-02-21 03:00","o":4365.6,"h":4365.6,"l":4346.5,"c":4348.8,"ma":4366.4},
{"t":"2022-02-21 04:00","o":4348.4,"h":4352.7,"l":4340.9,"c":4344.8,"ma":4363.9},
{"t":"2022-02-21 05:00","o":4344.5,"h":4344.5,"l":4324.0,"c":4334.8,"ma":4361.3},
{"t":"2022-02-21 06:00","o":4334.8,"h":4335.0,"l":4308.5,"c":4319.7,"ma":4357.5},
{"t":"2022-02-21 07:00","o":4319.7,"h":4324.4,"l":4299.1,"c":4314.2,"ma":4354.2},
{"t":"2022-02-21 08:00","o":4314.2,"h":4330.5,"l":4307.5,"c":4313.5,"ma":4350.6},
{"t":"2022-02-21 09:00","o":4313.2,"h":4327.3,"l":4303.9,"c":4313.9,"ma":4347.1},
{"t":"2022-02-21 10:00","o":4313.9,"h":4314.2,"l":4290.6,"c":4299.1,"ma":4343.4},
{"t":"2022-02-21 11:00","o":4299.1,"h":4304.9,"l":4284.8,"c":4289.5,"ma":4338.4},
{"t":"2022-02-21 17:00","o":4289.5,"h":4290.0,"l":4268.0,"c":4270.0,"ma":4330.7},
{"t":"2022-02-21 18:00","o":4270.0,"h":4288.1,"l":4265.0,"c":4281.2,"ma":4325.9},
{"t":"2022-02-21 19:00","o":4281.0,"h":4282.0,"l":4270.0,"c":4272.3,"ma":4320.4},
{"t":"2022-02-21 20:00","o":4272.3,"h":4279.0,"l":4265.6,"c":4271.3,"ma":4316.5},
{"t":"2022-02-21 21:00","o":4271.1,"h":4273.3,"l":4261.2,"c":4266.9,"ma":4312.7},
{"t":"2022-02-21 22:00","o":4266.9,"h":4278.1,"l":4266.9,"c":4276.2,"ma":4309.4},
{"t":"2022-02-21 23:00","o":4276.2,"h":4285.2,"l":4275.2,"c":4280.6,"ma":4306.7},
{"t":"2022-02-22 00:00","o":4280.0,"h":4283.8,"l":4267.9,"c":4276.7,"ma":4302.5},
{"t":"2022-02-22 01:00","o":4276.7,"h":4282.9,"l":4261.7,"c":4262.1,"ma":4299.2},
{"t":"2022-02-22 02:00","o":4262.1,"h":4295.8,"l":4259.8,"c":4294.4,"ma":4298.8},
{"t":"2022-02-22 03:00","o":4294.4,"h":4300.6,"l":4284.2,"c":4290.9,"ma":4298.3},
{"t":"2022-02-22 04:00","o":4291.1,"h":4350.6,"l":4290.0,"c":4336.2,"ma":4301.5},
{"t":"2022-02-22 05:00","o":4336.4,"h":4340.9,"l":4322.9,"c":4334.8,"ma":4305.6},
{"t":"2022-02-22 06:00","o":4335.2,"h":4349.8,"l":4324.8,"c":4340.9,"ma":4309.2},
{"t":"2022-02-22 07:00","o":4341.5,"h":4346.7,"l":4328.1,"c":4337.3,"ma":4312.7},
{"t":"2022-02-22 08:00","o":4337.3,"h":4356.7,"l":4308.3,"c":4345.4,"ma":4314.6},
{"t":"2022-02-22 09:00","o":4345.4,"h":4358.8,"l":4319.4,"c":4321.3,"ma":4314.6},
{"t":"2022-02-22 10:00","o":4321.7,"h":4322.9,"l":4307.3,"c":4315.9,"ma":4314.6},
{"t":"2022-02-22 11:00","o":4315.9,"h":4322.3,"l":4295.4,"c":4297.7,"ma":4314.0},
{"t":"2022-02-22 12:00","o":4297.7,"h":4302.1,"l":4270.4,"c":4276.2,"ma":4309.8},
{"t":"2022-02-22 13:00","o":4276.2,"h":4321.0,"l":4261.4,"c":4312.7,"ma":4309.4},
{"t":"2022-02-22 14:00","o":4312.7,"h":4332.3,"l":4283.5,"c":4300.2,"ma":4309.2},
{"t":"2022-02-22 15:00","o":4300.2,"h":4319.8,"l":4300.2,"c":4312.3,"ma":4309.8},
{"t":"2022-02-22 17:00","o":4311.7,"h":4327.5,"l":4308.9,"c":4324.2,"ma":4311.1},
{"t":"2022-02-22 18:00","o":4323.6,"h":4326.7,"l":4321.7,"c":4324.8,"ma":4312.5},
{"t":"2022-02-22 19:00","o":4324.8,"h":4326.2,"l":4316.9,"c":4319.4,"ma":4313.3},
{"t":"2022-02-22 20:00","o":4319.0,"h":4321.7,"l":4311.7,"c":4314.0,"ma":4313.8},
{"t":"2022-02-22 21:00","o":4314.0,"h":4321.4,"l":4309.8,"c":4321.0,"ma":4314.4},
{"t":"2022-02-22 22:00","o":4321.0,"h":4325.8,"l":4319.4,"c":4324.2,"ma":4315.2},
{"t":"2022-02-22 23:00","o":4324.2,"h":4328.1,"l":4319.4,"c":4321.3,"ma":4315.6},
{"t":"2022-02-23 00:00","o":4321.0,"h":4326.5,"l":4315.6,"c":4316.5,"ma":4315.8},
{"t":"2022-02-23 01:00","o":4316.9,"h":4326.5,"l":4311.4,"c":4323.3,"ma":4316.5},
{"t":"2022-02-23 02:00","o":4323.3,"h":4338.1,"l":4318.5,"c":4336.7,"ma":4318.3},
{"t":"2022-02-23 03:00","o":4336.7,"h":4345.4,"l":4332.9,"c":4335.4,"ma":4319.4},
{"t":"2022-02-23 04:00","o":4335.4,"h":4337.7,"l":4331.0,"c":4331.3,"ma":4320.4},
{"t":"2022-02-23 05:00","o":4331.6,"h":4333.3,"l":4315.2,"c":4317.1,"ma":4321.4},
{"t":"2022-02-23 06:00","o":4317.1,"h":4335.2,"l":4315.2,"c":4333.3,"ma":4322.1},
{"t":"2022-02-23 07:00","o":4333.5,"h":4337.7,"l":4324.8,"c":4333.5,"ma":4322.9},
{"t":"2022-02-23 08:00","o":4333.9,"h":4336.4,"l":4312.7,"c":4314.6,"ma":4321.4},
{"t":"2022-02-23 09:00","o":4314.6,"h":4314.6,"l":4279.4,"c":4284.4,"ma":4317.5},
{"t":"2022-02-23 10:00","o":4284.4,"h":4294.4,"l":4267.9,"c":4291.1,"ma":4314.6},
{"t":"2022-02-23 11:00","o":4291.1,"h":4305.4,"l":4278.6,"c":4283.3,"ma":4311.7},
{"t":"2022-02-23 12:00","o":4282.9,"h":4283.3,"l":4252.5,"c":4264.6,"ma":4305.6},
{"t":"2022-02-23 13:00","o":4264.6,"h":4269.4,"l":4231.9,"c":4238.7,"ma":4298.3},
{"t":"2022-02-23 14:00","o":4238.7,"h":4241.9,"l":4215.6,"c":4223.3,"ma":4292.5},
{"t":"2022-02-23 15:00","o":4222.9,"h":4227.5,"l":4212.1,"c":4215.2,"ma":4285.8},
{"t":"2022-02-23 17:00","o":4215.2,"h":4222.9,"l":4208.8,"c":4218.5,"ma":4279.0},
{"t":"2022-02-23 18:00","o":4217.9,"h":4223.3,"l":4191.0,"c":4191.0,"ma":4271.4},
{"t":"2022-02-23 19:00","o":4191.0,"h":4209.4,"l":4182.9,"c":4203.1,"ma":4263.7},
{"t":"2022-02-23 20:00","o":4203.1,"h":4206.9,"l":4180.0,"c":4182.5,"ma":4256.9},
{"t":"2022-02-23 21:00","o":4181.9,"h":4184.8,"l":4116.2,"c":4125.8,"ma":4247.3},
{"t":"2022-02-23 22:00","o":4125.8,"h":4145.4,"l":4118.5,"c":4142.1,"ma":4234.8},
{"t":"2022-02-23 23:00","o":4142.1,"h":4145.4,"l":4125.2,"c":4133.3,"ma":4224.2},
{"t":"2022-02-24 00:00","o":4133.3,"h":4149.8,"l":4116.5,"c":4125.2,"ma":4213.7},
{"t":"2022-02-24 01:00","o":4125.2,"h":4134.8,"l":4101.2,"c":4119.0,"ma":4205.9},
{"t":"2022-02-24 02:00","o":4119.0,"h":4149.8,"l":4113.3,"c":4145.2,"ma":4200.2},
{"t":"2022-02-24 03:00","o":4144.8,"h":4164.0,"l":4135.2,"c":4136.1,"ma":4194.4},
{"t":"2022-02-24 04:00","o":4135.8,"h":4149.8,"l":4125.2,"c":4131.9,"ma":4189.0},
{"t":"2022-02-24 05:00","o":4131.9,"h":4137.7,"l":4110.2,"c":4136.1,"ma":4183.3},
{"t":"2022-02-24 06:00","o":4136.1,"h":4137.1,"l":4116.5,"c":4120.4,"ma":4177.5}
]},
"layer":[
{"data":{"name":"levels"},
 "mark":{"type":"rule","color":"#5c5c5c","strokeWidth":1,"strokeDash":[6,3]},
 "encoding":{"y":{"field":"price","type":"quantitative",
   "scale":{"domain":[4074.3,4613.9],"nice":false,"zero":false},
   "axis":{"orient":"right","title":null,"tickCount":60,"values":[4087.5,4100,4112.5,4125,4137.5,4150,4162.5,4175,4187.5,4200,4212.5,4225,4237.5,4250,4262.5,4275,4287.5,4300,4312.5,4325,4337.5,4350,4362.5,4375,4387.5,4400,4412.5,4425,4437.5,4450,4462.5,4475,4487.5,4500,4512.5,4525,4537.5,4550,4562.5,4575,4587.5,4600],
    "format":".2f","labelColor":"#dddddd","labelFont":"DejaVu Sans","labelFontSize":11,"labelPadding":6,
    "labelOverlap":false,"labelFlush":false,"labelBound":false,
    "ticks":false,"domain":false,"grid":true,"gridColor":"#383838","gridDash":[2,3]}}}},
{"data":{"name":"bars"},
 "mark":{"type":"rule","color":"#ffffff","strokeWidth":1,"clip":true},
 "encoding":{
  "x":{"field":"t","type":"ordinal","sort":null,
   "scale":{"type":"band","range":[-3.38,2448.5],"paddingInner":0,"paddingOuter":0},
   "axis":{"orient":"bottom","title":null,"bandPosition":0,
    "values":["2022-01-31 17:00","2022-02-01 00:00","2022-02-01 08:00","2022-02-01 17:00","2022-02-02 00:00","2022-02-02 08:00","2022-02-02 17:00","2022-02-03 00:00","2022-02-03 08:00","2022-02-03 17:00","2022-02-04 00:00","2022-02-04 08:00","2022-02-06 17:00","2022-02-07 00:00","2022-02-07 08:00","2022-02-07 17:00","2022-02-08 00:00","2022-02-08 08:00","2022-02-08 17:00","2022-02-09 00:00","2022-02-09 08:00","2022-02-09 17:00","2022-02-10 00:00","2022-02-10 08:00","2022-02-10 17:00","2022-02-11 00:00","2022-02-11 08:00","2022-02-13 17:00","2022-02-14 00:00","2022-02-14 08:00","2022-02-14 17:00","2022-02-15 00:00","2022-02-15 08:00","2022-02-15 17:00","2022-02-16 00:00","2022-02-16 08:00","2022-02-16 17:00","2022-02-17 00:00","2022-02-17 08:00","2022-02-17 17:00","2022-02-18 00:00","2022-02-18 08:00","2022-02-20 17:00","2022-02-21 00:00","2022-02-21 08:00","2022-02-21 17:00","2022-02-22 00:00","2022-02-22 08:00","2022-02-22 17:00","2022-02-23 00:00","2022-02-23 08:00","2022-02-23 17:00","2022-02-24 00:00"],
    "labelExpr":"(datum.value == '2022-01-31 17:00' || datum.value == '2022-02-21 17:00') ? '' : substring(datum.value, 11, 13) == '00' ? 'Feb ' + toNumber(substring(datum.value, 8, 10)) : substring(datum.value, 11, 13) == '08' ? '8:00' : '16:00'",
    "labelFontWeight":{"condition":{"test":"substring(datum.value, 11, 13) == '00'","value":"bold"},"value":"normal"},
    "labelOffset":{"expr":"0.00468 * scale('x', datum.value) - 12.77"},
    "labelColor":"#ffffff","labelFont":"DejaVu Sans","labelFontSize":11,"labelPadding":5,"labelAngle":0,
    "labelOverlap":false,"labelFlush":false,"labelBound":false,
    "ticks":false,"domain":false,"grid":true,
    "gridColor":{"condition":{"test":"substring(datum.value, 11, 13) == '17'","value":"#5e5e5e"},"value":"#383838"},
    "gridDash":{"condition":{"test":"substring(datum.value, 11, 13) == '17'","value":[6,3]},"value":[2,3]}}},
  "y":{"field":"l","type":"quantitative"},
  "y2":{"field":"h"}}},
{"data":{"name":"bars"},
 "mark":{"type":"bar","width":4,"strokeWidth":1,"clip":true},
 "encoding":{
  "x":{"field":"t","type":"ordinal","sort":null},
  "y":{"field":"o","type":"quantitative"},
  "y2":{"field":"c"},
  "fill":{"condition":{"test":"datum.c > datum.o","value":"#00a800"},"value":"#d80000"},
  "stroke":{"condition":{"test":"datum.c > datum.o","value":"#00a800"},"value":"#d80000"}}},
{"data":{"name":"bars"},
 "mark":{"type":"tick","color":"#ffff00","thickness":2,"size":5,"clip":true},
 "encoding":{
  "x":{"field":"t","type":"ordinal","sort":null},
  "y":{"field":"c","type":"quantitative"},
  "opacity":{"condition":{"test":"datum.o == datum.c","value":1},"value":0}}},
{"data":{"name":"bars"},
 "mark":{"type":"line","color":"#dcd000","strokeWidth":1.3,"clip":true},
 "encoding":{
  "x":{"field":"t","type":"ordinal","sort":null},
  "y":{"field":"ma","type":"quantitative"}}}
]
}
